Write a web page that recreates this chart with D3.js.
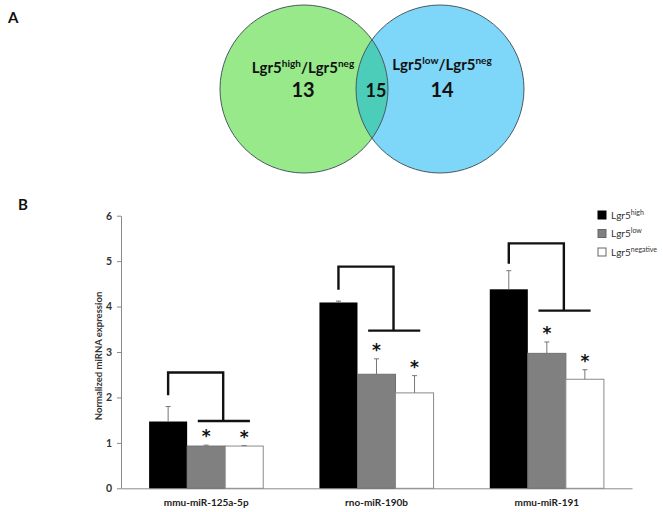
<!DOCTYPE html>
<html><head><meta charset="utf-8">
<script src="https://cdn.jsdelivr.net/npm/d3@7"></script>
<style>body{margin:0;background:#fff}svg{display:block}</style>
</head><body><svg id="c" width="663" height="512"></svg>
<script>
// ---- Data ----
const vennSets = ["high", "low"];          // superscripts of numerator Lgr5
const vennCounts = [13, 15, 14];            // only-left, overlap, only-right
const categories = ["mmu-miR-125a-5p", "rno-miR-190b", "mmu-miR-191"];
const seriesNames = ["high", "low", "negative"];
const highVals = [1.47, 4.09, 4.38];
const lowVals = [0.93, 2.51, 2.97];
const negVals = [0.93, 2.10, 2.40];
const highErr = [0.33, 0.03, 0.41];
const lowErr = [0.02, 0.34, 0.25];
const negErr = [0.01, 0.38, 0.21];
const starFlags = [[false, true, true], [false, true, true], [false, true, true]];
const bracketLeftStart = [2.05, 4.37, 4.94];
const bracketTop = [2.55, 4.88, 5.39];
const bracketBar = [1.48, 3.47, 3.91];
const yTicks = [0, 1, 2, 3, 4, 5, 6];

const svg = d3.select("#c");
const FONT = "Lato, 'Open Sans', sans-serif";

// ---- Panel labels ----
svg.append("text").attr("x", 8).attr("y", 23).text("A")
  .style("font", `bold 15px ${FONT}`).attr("fill", "#111");
svg.append("text").attr("x", 18).attr("y", 210).text("B")
  .style("font", `bold 15px ${FONT}`).attr("fill", "#111");

// ---- Venn ----
const vx = d3.scaleLinear().domain([0, 1]).range([304, 440]);
const vcy = 89, vr = 84;
const defs = svg.append("defs");
defs.append("clipPath").attr("id", "clipL").append("circle")
  .attr("cx", vx(0)).attr("cy", vcy).attr("r", vr);
const venn = svg.append("g");
venn.append("circle").attr("cx", vx(0)).attr("cy", vcy).attr("r", vr).attr("fill", "#97E98A");
venn.append("circle").attr("cx", vx(1)).attr("cy", vcy).attr("r", vr).attr("fill", "#7ED6F8");
venn.append("circle").attr("cx", vx(1)).attr("cy", vcy).attr("r", vr).attr("fill", "#4CCDB9")
  .attr("clip-path", "url(#clipL)");
[0, 1].forEach(i => venn.append("circle").attr("cx", vx(i)).attr("cy", vcy).attr("r", vr)
  .attr("fill", "none").attr("stroke", "#4a5a60").attr("stroke-width", 1));

vennSets.forEach((s, i) => {
  const t = venn.append("text").attr("x", vx(i) + (i ? 2 : -1)).attr("y", i ? 70 : 73)
    .attr("text-anchor", "middle").style("font", `bold 15px ${FONT}`).attr("fill", "#111");
  t.append("tspan").text("Lgr5");
  t.append("tspan").text(s).attr("dy", -6).style("font-size", "10px");
  t.append("tspan").text("/Lgr5").attr("dy", 6);
  t.append("tspan").text("neg").attr("dy", -6).style("font-size", "10px");
});
const countX = [vx(0) - 1, (vx(0) + vx(1)) / 2 + 4, vx(1) + 2];
vennCounts.forEach((c, i) => {
  venn.append("text").attr("x", countX[i]).attr("y", 97).attr("text-anchor", "middle")
    .style("font", `bold ${i === 1 ? 18 : 20}px ${FONT}`).attr("fill", "#111").text(c);
});

// ---- Bar chart ----
const x0 = d3.scaleBand().domain(categories).range([121, 632]).paddingInner(0.33).paddingOuter(0.165);
const x1 = d3.scaleBand().domain(seriesNames).range([0, x0.bandwidth()]);
const y = d3.scaleLinear().domain([0, 6]).range([488.3, 215.7]);
const vals = [highVals, lowVals, negVals];
const errs = [highErr, lowErr, negErr];
const fills = ["#000000", "#808080", "#ffffff"];
const strokes = ["#000000", "#707070", "#8a8a8a"];

// axes
const ya = svg.append("g").attr("transform", "translate(121,0)")
  .call(d3.axisLeft(y).tickValues(yTicks).tickFormat(d3.format("d")).tickSize(4).tickSizeOuter(0).tickPadding(5));
ya.select(".domain").attr("stroke", "#8a8a8a");
ya.selectAll(".tick line").attr("stroke", "#8a8a8a");
ya.selectAll("text").style("font", `bold 10.5px ${FONT}`).attr("fill", "#333");

const xa = svg.append("g").attr("transform", `translate(0,${y(0)})`)
  .call(d3.axisBottom(x0).tickSize(0).tickSizeOuter(0).tickPadding(11));
xa.select(".domain").attr("stroke", "#8a8a8a");
xa.selectAll("text").style("font", `bold 10px ${FONT}`).attr("fill", "#222");

svg.append("text").attr("transform", `translate(102,${(y(0) + y(6)) / 2 + 4}) rotate(-90)`)
  .attr("text-anchor", "middle").style("font", `bold 9.5px ${FONT}`).attr("fill", "#333")
  .text("Normalized miRNA expression");

const plot = svg.append("g");
categories.forEach((cat, ci) => {
  const g = plot.append("g").attr("transform", `translate(${x0(cat)},0)`);
  seriesNames.forEach((s, si) => {
    const v = vals[si][ci], e = errs[si][ci];
    const bx = x1(s), bw = x1.bandwidth(), cx = bx + bw / 2;
    g.append("rect").attr("x", bx).attr("y", y(v)).attr("width", bw).attr("height", y(0) - y(v))
      .attr("fill", fills[si]).attr("stroke", strokes[si]).attr("stroke-width", si === 0 ? 0 : 1);
    g.append("line").attr("x1", cx).attr("x2", cx).attr("y1", y(v)).attr("y2", y(v + e))
      .attr("stroke", "#777").attr("stroke-width", 1);
    g.append("line").attr("x1", cx - 2.5).attr("x2", cx + 2.5).attr("y1", y(v + e)).attr("y2", y(v + e))
      .attr("stroke", "#777").attr("stroke-width", 1);
    if (starFlags[ci][si]) {
      g.append("text").attr("x", cx).attr("y", y(v + e) - 3).attr("text-anchor", "middle")
        .style("font", "bold 17px 'DejaVu Sans', sans-serif").attr("fill", "#111").text("*");
    }
  });
  // significance bracket
  const bw = x1.bandwidth();
  const hx = x1("high") + bw / 2;
  const rx = x1("low") + bw - 2;
  const bl = x1("low") + 0.28 * bw, br = x1("negative") + bw - 0.35 * bw;
  g.append("path")
    .attr("d", `M${hx},${y(bracketLeftStart[ci])}V${y(bracketTop[ci])}H${rx}V${y(bracketBar[ci])}`)
    .attr("fill", "none").attr("stroke", "#111").attr("stroke-width", 2.4);
  g.append("line").attr("x1", bl).attr("x2", br).attr("y1", y(bracketBar[ci])).attr("y2", y(bracketBar[ci]))
    .attr("stroke", "#111").attr("stroke-width", 2.4);
});

// legend
const leg = svg.append("g");
seriesNames.forEach((s, i) => {
  const ly = 215 + i * 18.5;
  leg.append("rect").attr("x", 598).attr("y", ly - 4).attr("width", 8).attr("height", 8)
    .attr("fill", fills[i]).attr("stroke", i === 0 ? "#000" : "#666").attr("stroke-width", 1);
  const t = leg.append("text").attr("x", 611).attr("y", ly + 3.5)
    .style("font", `10px ${FONT}`).attr("fill", "#333");
  t.append("tspan").text("Lgr5");
  t.append("tspan").text(s).attr("dy", -4).style("font-size", "7px");
});
</script>
</body></html>
